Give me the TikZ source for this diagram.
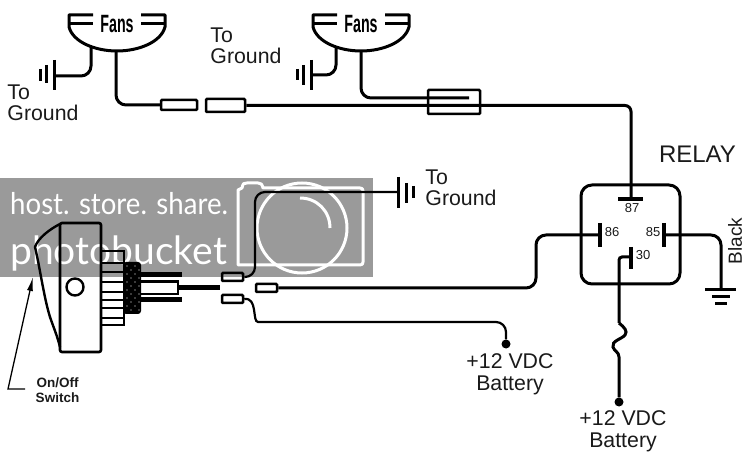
\documentclass[tikz,border=0pt]{standalone}
\usepackage{fontspec}
\setmainfont{Liberation Sans}
\newfontfamily\markfont{Lato}
\definecolor{mgray}{HTML}{9A9A9A}
\definecolor{tblack}{HTML}{1A1A1A}
\usetikzlibrary{arrows.meta}
\begin{document}
\begin{tikzpicture}[
    	x=1pt,y=-1pt,
    	wire/.style={line width=3pt,rounded corners=10pt},
    	thinwire/.style={line width=2.2pt,rounded corners=10pt},
    	bar/.style={line width=3pt},
    	fuse/.style={draw,line width=2.5pt,rounded corners=1pt,inner sep=0pt},
    	pinbar/.style={line width=4.5pt},
    	label/.style={text=tblack,inner sep=0pt,align=left,font=\fontsize{21.3}{21}\selectfont},
    	blabel/.style={text=tblack,inner sep=0pt,align=center,font=\fontsize{21.3}{22}\selectfont},
    	pinlabel/.style={text=tblack,inner sep=0pt,font=\fontsize{13}{13}\selectfont},
    	dot/.style={circle,fill=black,inner sep=0pt,minimum size=9pt},
    ]
    \path[use as bounding box] (0,0) rectangle (747,454);
    % watermark
    \fill[mgray] (0,178) rectangle (373,277);
    \node[white,anchor=base west,inner sep=0pt,font=\markfont\fontsize{30}{30}\selectfont] (markone) at (10,215) {\scalebox{.92}[1]{host. store. share.}};
    \node[white,anchor=base west,inner sep=0pt,font=\markfont\fontsize{39}{39}\selectfont] (marktwo) at (10,265) {photobucket};
    \draw[white,line width=3pt,line join=round] (238,265) -- (238,190) -- (242,188) .. controls (243,183) and (244,183) .. (247,183) -- (258,183) .. controls (261,183) and (262,184) .. (263,188) -- (360,188) .. controls (362,188) and (363,189) .. (363,191) -- (363,262) .. controls (363,264) and (362,265) .. (360,265) -- cycle;
    \draw[white,line width=3pt] (302,228) circle (45);
    \draw[white,line width=3pt] (300,198) .. controls (317,198) and (330,211) .. (330,228);
    % fans
    \foreach \cx/\name in {117/fanone,361/fantwo}
    {
    \node[inner sep=0pt,font=\fontsize{25}{25}\bfseries] (\name) at (\cx,24) {\scalebox{.57}[1]{Fans}};
    \draw[bar,shift={(\cx,0)},line join=round] (-24,15) -- (-48,15) -- (-48,27) .. controls (-44,42) and (-22,51) .. (0,51) .. controls (22,51) and (44,42) .. (48,27) -- (48,15) -- (24,15);
    \draw[bar,shift={(\cx,0)}] (-48,24) -- (-24,24);
    \draw[bar,shift={(\cx,0)}] (48,24) -- (24,24);
    }
    \coordinate (fanonewire) at (116,51);
    \coordinate (fanonegnd) at (91,47);
    \coordinate (fantwowire) at (361,51);
    \coordinate (fantwognd) at (336,47);
    % fuses
    \node[fuse,minimum width=36pt,minimum height=10pt] (fuseone) at (179,105) {};
    \node[fuse,minimum width=39pt,minimum height=13pt] (fusetwo) at (225.5,105.5) {};
    \node[fuse,minimum width=52pt,minimum height=24pt] (fusethree) at (454,102) {};
    \node[fuse,minimum width=21pt,minimum height=8pt] (fusefour) at (232.5,277) {};
    \node[fuse,minimum width=21pt,minimum height=8pt] (fusefive) at (232.5,299) {};
    \node[fuse,minimum width=21pt,minimum height=8pt] (fusesix) at (266.5,288) {};
    \coordinate (fusethreeend) at (469,98);
    % grounds
    \coordinate (gndone) at (54,76);
    \coordinate (gndtwo) at (311,75);
    \coordinate (gndthree) at (398,192);
    \coordinate (gndrelay) at (721,290);
    \foreach \x/\ya/\yb in {54/60/90,46/65/83,40/69/81,311/60/90,303/65/85,297/69/80,398/177/208,406/183/203,413/186/198}
    \draw[bar] (\x,\ya) -- (\x,\yb);
    \foreach \xa/\xb/\y in {705/736/290,712/730/297,715/727/304}
    \draw[bar] (\xa,\y) -- (\xb,\y);
    \draw[wire] (fanonegnd) |- (gndone);
    \draw[wire] (fantwognd) |- (gndtwo);
    % relay
    \node[draw,line width=3pt,rounded corners=11pt,minimum size=99pt,inner sep=0pt] (relay) at (630.5,234.5) {};
    \coordinate (pinseven) at (631,199);
    \coordinate (pinsix) at (600,235);
    \coordinate (pinfive) at (664,235);
    \coordinate (pinzero) at (631,257);
    \draw[pinbar] (618,199) -- (643,199);
    \draw[pinbar] (600,223) -- (600,247);
    \draw[pinbar] (664,223) -- (664,247);
    \draw[pinbar] (631,247) -- (631,269);
    \node[pinlabel] (labseven) at (632,208.5) {87};
    \node[pinlabel] (labsix) at (612,232.5) {86};
    \node[pinlabel] (labfive) at (653,232.5) {85};
    \node[pinlabel] (labzero) at (643,255.5) {30};
    \node[text=tblack,inner sep=0pt,font=\fontsize{24}{24}\selectfont] (relaytitle) at (697.5,154) {RELAY};
    \node[text=tblack,inner sep=0pt,rotate=90,font=\fontsize{19}{19}\selectfont] (blacklab) at (735,241) {Black};
    % wires
    \coordinate (bendsix) at (536,260);
    \coordinate (bendtop) at (255,230);
    \coordinate (squigtop) at (619,323);
    \coordinate (squigbot) at (619,357);
    \node[dot] (dotleft) at (506,344) {};
    \node[dot] (dotright) at (619,402) {};
    \draw[wire] (fanonewire) |- (fuseone.west);
    \draw[wire,rounded corners=6pt] (fusetwo.east) -| (pinseven);
    \draw[wire] (fantwowire) |- (fusethreeend);
    \draw[wire] (pinsix) -| (bendsix) |- (fusesix.east);
    \draw[wire] (pinfive) -| (gndrelay);
    \draw[wire,rounded corners=3pt] (pinzero) -| (squigtop);
    \draw[line width=3pt] (squigtop) .. controls (624,327) and (628,331) .. (625,335) .. controls (622,339) and (611,341) .. (613,347) .. controls (614,351) and (619,352) .. (squigbot) -- (dotright);
    \draw[thinwire] (gndthree) -| (bendtop) |- (fusefour.east);
    \draw[thinwire] (fusefive.east) .. controls (258,297) and (252,322) .. (268,322) -| (dotleft);
    % switch
    \draw[line width=2.4pt,line join=round] (60,224) .. controls (50,229) and (38,238) .. (35,247) .. controls (40,268) and (44,298) .. (50,317) .. controls (53,326) and (57,335) .. (60,347);
    \node[draw,line width=2.6pt,rounded corners=2pt,minimum width=41pt,minimum height=129pt,inner sep=0pt] (switchbody) at (80.5,287.5) {};
    \node[draw,circle,line width=2.4pt,minimum size=17pt,inner sep=0pt] (switchhole) at (75,287) {};
    \node[draw,line width=2.4pt,minimum width=23pt,minimum height=74pt,inner sep=0pt] (flange) at (112.5,288) {};
    \foreach \y in {263,272,282,292,300,308,318}
    \draw[line width=2pt] (101,\y) -- (124,\y);
    \node[fill=black,rounded corners=3pt,minimum width=18pt,minimum height=52pt,inner sep=0pt] (knurl) at (132,288) {};
    \foreach \x/\off in {127/0,131/4,135/0,139/4}
    \foreach \y in {266,274,282,290,298,306}
    \fill[white] (\x,\y+\off) circle (.7);
    \draw[line width=5pt] (141,275) -- (182,275);
    \draw[line width=5pt] (141,300) -- (182,300);
    \draw[line width=2.2pt] (141,281.5) -- (178,281.5) -- (178,294) -- (141,294);
    \draw[line width=5pt] (178,288) -- (220,288);
    \coordinate (arrowend) at (25,389);
    \coordinate (arrowcorner) at (8,389);
    \coordinate (arrowtip) at (33,277);
    \draw[line width=1.3pt,-{Latex[length=14pt,width=6pt]}] (arrowend) -- (arrowcorner) -- (arrowtip);
    % labels
    \node[label] (labone) at (43,103) {To\\Ground};
    \node[label] (labtwo) at (246,46) {To\\Ground};
    \node[label] (labthree) at (461,188) {To\\Ground};
    \node[blabel] (batone) at (510,374) {+12 VDC\\Battery};
    \node[blabel] (battwo) at (623,431) {+12 VDC\\Battery};
    \node[text=tblack,inner sep=0pt,align=center,font=\fontsize{13.5}{15}\bfseries] (switchlab) at (57.5,390.5) {On/Off\\Switch};
    \end{tikzpicture}
\end{document}
